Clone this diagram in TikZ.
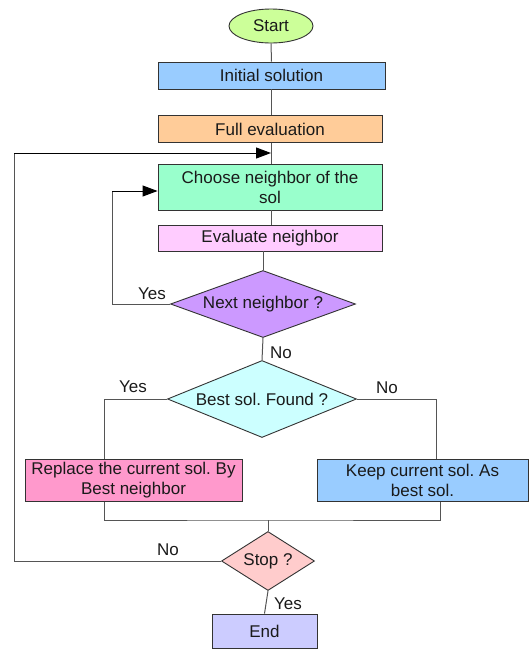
\documentclass[tikz,border=0pt]{standalone}
\usepackage{fontspec}
\setmainfont{Liberation Sans}
\usetikzlibrary{shapes.geometric,arrows.meta}
\frenchspacing
\definecolor{txt}{HTML}{1A1A1A}
\definecolor{edge}{HTML}{333333}
\definecolor{wire}{HTML}{555555}
\definecolor{cStart}{HTML}{CCFF99}
\definecolor{cInit}{HTML}{99CCFF}
\definecolor{cFull}{HTML}{FFCC99}
\definecolor{cChoose}{HTML}{99FFCC}
\definecolor{cEval}{HTML}{FFCCFF}
\definecolor{cNext}{HTML}{CC99FF}
\definecolor{cBest}{HTML}{CCFFFF}
\definecolor{cRepl}{HTML}{FF99CC}
\definecolor{cKeep}{HTML}{99CCFF}
\definecolor{cStop}{HTML}{FFCCCC}
\definecolor{cEnd}{HTML}{CCCCFF}
\begin{document}
\begin{tikzpicture}[x=1pt,y=-1pt,
  font=\fontsize{17}{20}\selectfont, text=txt,
  box/.style={draw=edge, line width=0.9pt, inner sep=0pt, align=center},
  decision/.style={draw=edge, line width=0.9pt, diamond, inner sep=0pt, align=center},
  link/.style={draw=wire, line width=1pt},
  back/.style={draw=black, line width=1pt, -{Triangle[length=15pt,width=11pt]}},
  lbl/.style={inner sep=0pt}]
\useasboundingbox (0,0) rectangle (529,649);

% process steps
\node[box, ellipse, fill=cStart, minimum width=84pt, minimum height=34pt] (start) at (271,26) {Start};
\node[box, fill=cInit, minimum width=227pt, minimum height=27pt] (init) at (271.5,75.5) {Initial solution};
\node[box, fill=cFull, minimum width=224pt, minimum height=27pt] (full) at (270,129) {Full evaluation};
\node[box, fill=cChoose, minimum width=224pt, minimum height=46pt] (choose) at (270,187) {Choose neighbor of the\\sol};
\node[box, fill=cEval, minimum width=224pt, minimum height=26pt] (eval) at (270,238) {Evaluate neighbor};
\node[decision, fill=cNext, shape aspect=2.76, minimum width=185pt, minimum height=67pt] (next) at (263,304) {Next neighbor ?};
\node[decision, fill=cBest, shape aspect=2.45, minimum width=189pt, minimum height=77pt] (best) at (262,399) {Best sol. Found ?};
\node[box, fill=cRepl, minimum width=217pt, minimum height=42pt] (repl) at (133.5,480.5) {Replace the current sol. By\\Best neighbor};
\node[box, fill=cKeep, minimum width=211pt, minimum height=42pt] (keep) at (422.5,480.5) {Keep current sol. As\\best sol.};
\node[decision, fill=cStop, shape aspect=1.58, minimum width=93pt, minimum height=59pt] (stop) at (268,561) {Stop ?};
\node[box, fill=cEnd, minimum width=105pt, minimum height=34pt] (end) at (264.5,631) {End};

% junction points
\coordinate (entry) at (271,153);
\coordinate (inner) at (112,191);
\coordinate (merge) at (268,520);
\coordinate (outer) at (14,153);

% main flow
\draw[link] (start.south) -- (init.north);
\draw[link] (init.south -| start.south) -- (full.north -| start.south);
\draw[link] (full.south -| entry) -- (choose.north -| entry);
\draw[link] (choose.south -| entry) -- (eval.north -| entry);
\draw[link] (eval.south -| next.north) -- (next.north);
\draw[link] (next.south) -- (best.north);

% inner loop back to choosing a neighbour
\draw[link] (next.west) -| (inner);
\draw[back] (inner) -- (inner -| choose.west);

% branches of the best-solution test
\draw[link] (best.west) -| ([xshift=-29.5pt]repl.north);
\draw[link] (best.east) -| ([xshift=13.5pt]keep.north);
\draw[link] ([xshift=-29.5pt]repl.south) |- (merge) -| ([xshift=17.5pt]keep.south);
\draw[link] (merge) -- (stop.north);

% outer loop and termination
\draw[link] (stop.west) -| (outer);
\draw[back] (outer) -- (entry);
\draw[link] (stop.south) -- (end.north);

% branch labels
\node[lbl] (l1) at (152,294) {Yes};
\node[lbl] (l2) at (281,353) {No};
\node[lbl] (l3) at (133,387) {Yes};
\node[lbl] (l4) at (387,388) {No};
\node[lbl] (l5) at (168,550) {No};
\node[lbl] (l6) at (288,604) {Yes};
\end{tikzpicture}
\end{document}
